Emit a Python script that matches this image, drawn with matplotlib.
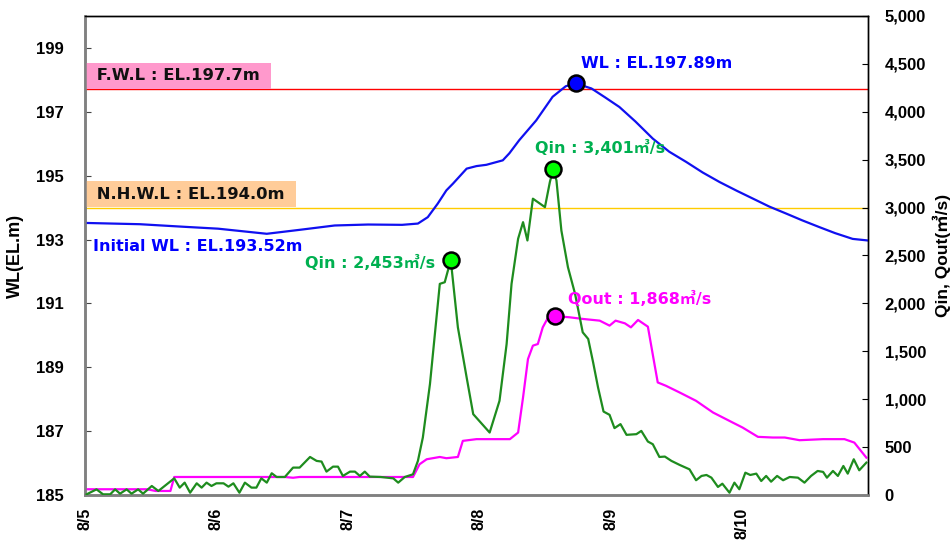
import matplotlib
matplotlib.use("Agg")
import matplotlib.pyplot as plt
from matplotlib.ticker import FuncFormatter, FixedLocator

# ---------------- data (hours from 8/5 00:00) ----------------
wl_hours = [0, 10, 18, 24.3, 33.2, 39.5, 45.6, 51.7, 57.9, 60.8, 62.6, 64.4, 66.0, 67.2,
            69.7, 71.5, 73.3, 76.3, 77.5, 79.3, 82.4, 85.4, 87.8, 89.6, 92.5, 95.0,
            97.6, 100.5, 103.7, 106.7, 109.8, 112.8, 115.9, 119.0, 122.0, 125.0,
            128.1, 131.0, 134.1, 137.0, 140.2, 143.0]
wl_values = [193.52, 193.48, 193.40, 193.34, 193.18, 193.31, 193.44, 193.47, 193.46, 193.50,
             193.70, 194.12, 194.54, 194.75, 195.22, 195.30, 195.34, 195.48, 195.70, 196.11,
             196.73, 197.47, 197.80, 197.89, 197.73, 197.45, 197.15, 196.70, 196.16,
             195.75, 195.43, 195.10, 194.80, 194.53, 194.28, 194.03, 193.81, 193.60,
             193.39, 193.20, 193.02, 192.97]

qin_hours = [0.3, 2.1, 3.3, 4.6, 5.5, 6.4, 7.6, 8.5, 9.7, 10.6, 12.2, 13.4, 16.3, 17.3,
             18.2, 19.2, 20.4, 21.3, 22.2, 23.1, 24.0, 25.3, 26.2, 27.1, 28.2, 29.2,
             30.4, 31.3, 32.2, 33.2, 34.1, 35.0, 36.5, 38.0, 39.2, 41.1, 42.3, 43.2,
             44.1, 45.3, 46.2, 47.1, 48.4, 49.3, 50.2, 51.1, 52.0, 54.0, 56.3, 57.2,
             58.4, 59.9, 60.8, 61.7, 63.0, 63.9, 64.8, 65.7, 66.8, 68.1, 69.7, 70.9,
             73.9, 75.7, 77.0, 77.9, 79.1, 80.0, 80.8, 81.8, 84.0, 84.9, 85.5, 86.1,
             87.0, 88.2, 89.5, 90.9, 91.9, 92.8, 93.7, 94.7, 95.8, 96.7, 97.8, 98.9,
             100.7, 101.6, 102.8, 103.7, 104.9, 105.9, 107.1, 108.6, 110.4, 111.6,
             112.6, 113.5, 114.4, 115.6, 116.4, 117.7, 118.6, 119.5, 120.6, 121.5,
             122.6, 123.5, 124.4, 125.3, 126.4, 127.5, 128.7, 130.2, 131.4, 132.6,
             133.8, 134.8, 135.5, 136.6, 137.5, 138.5, 139.3, 140.4, 141.4, 142.7]
qin_values = [7, 59, 7, 7, 59, 14, 59, 14, 59, 14, 94, 42, 174, 77,
              129, 24, 122, 77, 129, 94, 122, 122, 87, 122, 24, 129,
              77, 77, 174, 129, 227, 188, 188, 286, 286, 397, 356, 349,
              244, 296, 296, 199, 244, 244, 199, 244, 192, 188, 174, 129,
              188, 216, 356, 600, 1158, 1681, 2204, 2221, 2453, 1750, 1227, 844,
              652, 983, 1576, 2204, 2675, 2848, 2657, 3093, 3005, 3267, 3401, 3284,
              2761, 2378, 2100, 1698, 1629, 1384, 1122, 871, 837, 698, 740, 628,
              635, 669, 558, 530, 397, 401, 356, 314, 268, 154,
              199, 209, 181, 84, 118, 24, 129, 60, 233, 209,
              223, 146, 199, 139, 199, 154, 188, 181, 129, 199,
              251, 241, 181, 251, 199, 303, 223, 373, 258, 338]

qout_hours = [0.3, 11.3, 12.9, 15.6, 16.3, 36.5, 38.0, 39.2, 59.9, 61.1, 62.4, 64.8, 66.0,
              68.1, 69.0, 71.5, 77.6, 79.1, 80.0, 80.9, 81.8, 82.7, 83.6, 84.6, 85.8,
              88.5, 90.9, 94.0, 95.8, 96.9, 98.6, 99.7, 101.0, 102.8, 104.0, 104.6,
              106.1, 108.6, 111.6, 114.7, 118.3, 120.1, 122.9, 125.6, 127.8, 130.5,
              134.8, 138.7, 140.5, 142.7]
qout_values = [60, 60, 42, 42, 188, 188, 180, 188, 188, 321, 373, 397, 384,
               397, 565, 583, 583, 652, 1018, 1419, 1559, 1576, 1750, 1855, 1868,
               1855, 1838, 1820, 1768, 1820, 1792, 1750, 1827, 1757, 1367, 1175,
               1140, 1070, 983, 861, 756, 704, 607, 600, 600, 572,
               583, 583, 547, 390]

day_ticks = [0, 24, 48, 72, 96, 120]
day_labels = ["8/5", "8/6", "8/7", "8/8", "8/9", "8/10"]
wl_ticks = [185, 187, 189, 191, 193, 195, 197, 199]
q_ticks = [0, 500, 1000, 1500, 2000, 2500, 3000, 3500, 4000, 4500, 5000]

FWL = 197.7
NHWL = 194.0
initial_wl = 193.52
wl_peak = (89.6, 197.89)
qin_peak1 = (66.8, 2453)
qin_peak2 = (85.5, 3401)
qout_peak = (85.8, 1868)

# ---------------- style ----------------
TICK_FONT = "Liberation Sans"
ANN_FONT = ["DejaVu Sans", "Noto Sans CJK KR"]
C_WL = "#1010F0"
C_QIN = "#1E8C1E"
C_QOUT = "#FF00FF"
C_QIN_TXT = "#00B050"

fig = plt.figure(figsize=(9.53, 5.40), dpi=100)
ax = fig.add_axes([85 / 953, 1 - 495 / 540, (868 - 85) / 953, (495 - 16) / 540])
ax2 = ax.twinx()

ax.set_xlim(0, 143)
ax.set_ylim(185, 200)
ax2.set_ylim(0, 5000)

# reference lines
ax.axhline(FWL, color="#FF0000", lw=1.0, zorder=1)
ax.axhline(NHWL, color="#FFCC00", lw=1.0, zorder=1)

# series
ax.plot(wl_hours, wl_values, color=C_WL, lw=1.6, zorder=3)
ax2.plot(qin_hours, qin_values, color=C_QIN, lw=1.6, zorder=3)
ax2.plot(qout_hours, qout_values, color=C_QOUT, lw=1.6, zorder=2)

# markers
mk = dict(marker="o", markersize=11.5, markeredgecolor="black", markeredgewidth=1.8,
          linestyle="none", zorder=6)
ax2.plot([qin_peak1[0]], [qin_peak1[1]], markerfacecolor="#00FF00", **mk)
ax2.plot([qin_peak2[0]], [qin_peak2[1]], markerfacecolor="#00FF00", **mk)
ax2.plot([qout_peak[0]], [qout_peak[1]], markerfacecolor="#FF00FF", **mk)
ax.plot([wl_peak[0]], [wl_peak[1]], markerfacecolor="#0000FF", **mk)

# level boxes
box_kw = dict(xycoords="data", textcoords="offset points", ha="left", va="bottom",
              fontsize=11.8, fontweight="bold", family=ANN_FONT, color="#111111",
              annotation_clip=False, zorder=5)
ax.annotate(" F.W.L : EL.197.7m ", xy=(0, FWL), xytext=(4.2, 4.3),
            bbox=dict(boxstyle="square,pad=0.35", fc="#FF99CC", ec="none"), **box_kw)
ax.annotate(" N.H.W.L : EL.194.0m ", xy=(0, NHWL), xytext=(4.2, 4.3),
            bbox=dict(boxstyle="square,pad=0.35", fc="#FFCC99", ec="none"), **box_kw)

lab_kw = dict(textcoords="offset points", fontsize=11.5, fontweight="bold",
              family=ANN_FONT, va="center", zorder=7)
ax.annotate("Initial WL : EL.193.52m", xy=(0, initial_wl), xytext=(5.5, -17),
            ha="left", color="#0000FF", **lab_kw)
ax.annotate("WL : EL.%.2fm" % wl_peak[1], xy=wl_peak, xytext=(4, 14.5),
            ha="left", color="#0000FF", **lab_kw)
ax2.annotate("Qin : {:,}㎥/s".format(qin_peak2[1]), xy=qin_peak2, xytext=(-13, 15),
             ha="left", color=C_QIN_TXT, **lab_kw)
ax2.annotate("Qin : {:,}㎥/s".format(qin_peak1[1]), xy=qin_peak1, xytext=(-11, -2),
             ha="right", color=C_QIN_TXT, **lab_kw)
ax2.annotate("Qout : {:,}㎥/s".format(qout_peak[1]), xy=qout_peak, xytext=(9.5, 12),
             ha="left", color=C_QOUT, **lab_kw)

# axes formatting
ax.xaxis.set_major_locator(FixedLocator(day_ticks))
ax.set_xticklabels(day_labels, rotation=90, fontsize=11.5, fontweight="bold",
                   family=TICK_FONT)
ax.tick_params(axis="x", length=0, pad=9)

ax.set_yticks(wl_ticks)
ax.set_yticklabels([str(v) for v in wl_ticks], fontsize=12, fontweight="bold",
                   family=TICK_FONT)
ax.tick_params(axis="y", direction="in", length=4, pad=15, color="#444444")

ax2.set_yticks(q_ticks)
ax2.yaxis.set_major_formatter(FuncFormatter(lambda v, p: "{:,}".format(int(v))))
for t in ax2.get_yticklabels():
    t.set_fontsize(12)
    t.set_fontweight("bold")
    t.set_family(TICK_FONT)
ax2.tick_params(axis="y", direction="in", length=4, pad=12)

ax.set_ylabel("WL(EL.m)", fontsize=13, fontweight="bold", family=TICK_FONT, labelpad=9)
ax2.set_ylabel("Qin, Qout(㎥/s)", fontsize=12.5, fontweight="bold",
               family=[TICK_FONT, "Noto Sans CJK KR"], labelpad=5)

for a in (ax, ax2):
    a.spines["left"].set_color("#808080")
    a.spines["left"].set_linewidth(1.8)
    a.spines["bottom"].set_color("#808080")
    a.spines["bottom"].set_linewidth(1.8)
    a.spines["top"].set_color("black")
    a.spines["top"].set_linewidth(1.0)
    a.spines["right"].set_color("black")
    a.spines["right"].set_linewidth(1.0)

fig.savefig("out.png", dpi=100)
